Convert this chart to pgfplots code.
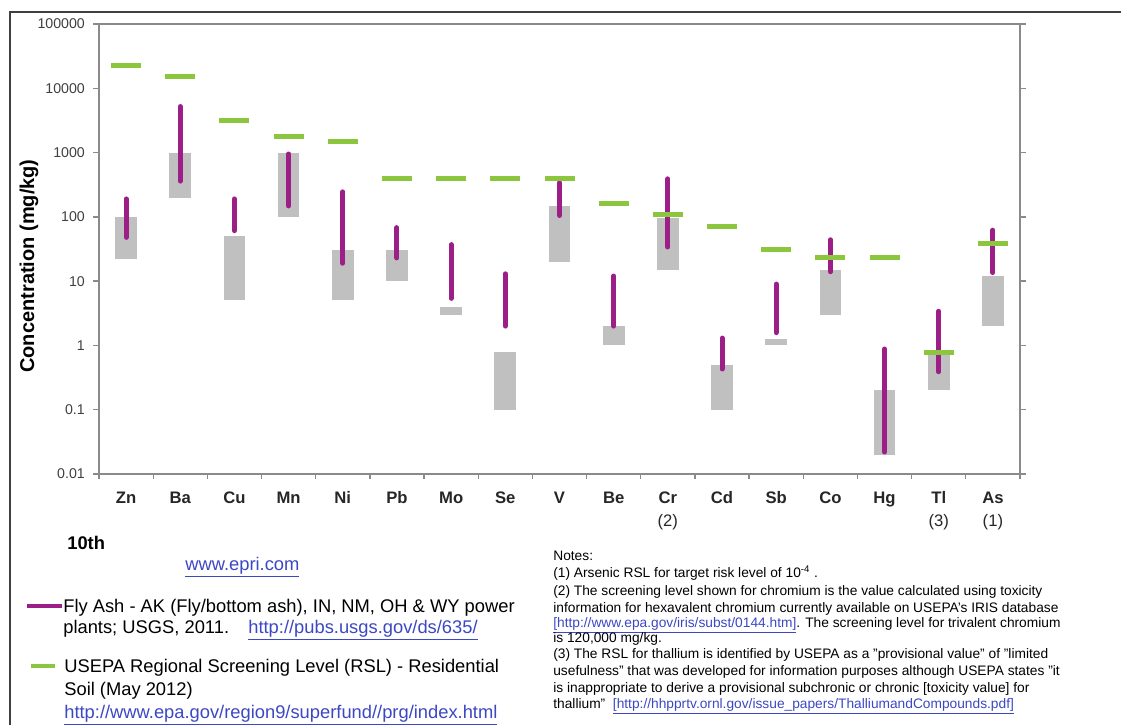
\documentclass[border=0pt]{standalone}
\usepackage{fontspec}
\setmainfont{Liberation Sans}
\usepackage{pgfplots}
\pgfplotsset{compat=1.18}

\definecolor{ashpurple}{HTML}{9C1F87}
\definecolor{rslgreen}{HTML}{8CC63E}
\definecolor{soilgray}{HTML}{C0C0C0}
\definecolor{axisgray}{HTML}{8A8A8A}
\definecolor{linkblue}{HTML}{3B47C4}
\newcommand\link[1]{\textcolor{linkblue}{\underline{#1}}}

\begin{document}
\begin{tikzpicture}[px/.style={x=0.6pt,y=-0.6pt,shift={(-59.4pt,284.4pt)}}]
% page size in reference pixels (1px = 0.6pt), origin at the axis corner
\path[px,use as bounding box] (0,0) rectangle (1121,725);

\begin{axis}[
    at={(0,0)}, anchor=south west,
    scale only axis, width=552.6pt, height=270pt,
    ymode=log, ymin=0.01, ymax=100000,
    xmin=-0.5, xmax=16.5,
    unbounded coords=jump,
    axis line style={axisgray, line width=1pt},
    tick align=outside,
    major tick length=3.5pt, minor tick length=3pt,
    xtick={0,...,16},
    xticklabels={Zn,Ba,Cu,Mn,Ni,Pb,Mo,Se,V,Be,{Cr\\\mdseries(2)},Cd,Sb,Co,Hg,{Tl\\\mdseries(3)},{As\\\mdseries(1)}},
    xticklabel style={font=\bfseries\fontsize{10}{14}\selectfont, align=center, text=black!85, yshift=-3.5pt},
    minor xtick={-0.5,0.5,...,16.5},
    major x tick style={draw=none},
    minor x tick style={draw=axisgray, line width=0.8pt},
    xtick pos=left,
    ytick={0.01,0.1,1,10,100,1000,10000,100000},
    yticklabels={0.01,0.1,1,10,100,1000,10000,100000},
    yminorticks=false,
    ytick pos=both,
    y tick style={draw=axisgray, line width=0.8pt},
    yticklabel style={font=\fontsize{8.5}{10}\selectfont, text=black!75, xshift=-1.5pt},
]
% soil background range (grey boxes)
\addplot[soilgray, line width=13pt, mark=none] coordinates {
    (0,22) (0,100) (0,nan)
    (1,200) (1,1000) (1,nan)
    (2,5) (2,50) (2,nan)
    (3,100) (3,1000) (3,nan)
    (4,5) (4,30) (4,nan)
    (5,10) (5,30) (5,nan)
    (6,3) (6,4) (6,nan)
    (7,0.1) (7,0.8) (7,nan)
    (8,20) (8,150) (8,nan)
    (9,1) (9,2) (9,nan)
    (10,15) (10,95) (10,nan)
    (11,0.1) (11,0.5) (11,nan)
    (12,1) (12,1.25) (12,nan)
    (13,3) (13,15) (13,nan)
    (14,0.02) (14,0.2) (14,nan)
    (15,0.2) (15,0.7) (15,nan)
    (16,2) (16,12)
};
% fly ash range (purple)
\addplot[ashpurple, line width=3pt, line cap=round, mark=none] coordinates {
    (0,48) (0,190) (0,nan)
    (1,360) (1,5200) (1,nan)
    (2,61) (2,190) (2,nan)
    (3,148) (3,950) (3,nan)
    (4,19) (4,245) (4,nan)
    (5,23) (5,68) (5,nan)
    (6,5.4) (6,37) (6,nan)
    (7,2) (7,13) (7,nan)
    (8,105) (8,340) (8,nan)
    (9,2) (9,12) (9,nan)
    (10,34) (10,390) (10,nan)
    (11,0.43) (11,1.3) (11,nan)
    (12,1.58) (12,9) (12,nan)
    (13,14) (13,44) (13,nan)
    (14,0.022) (14,0.88) (14,nan)
    (15,0.39) (15,3.4) (15,nan)
    (16,13.6) (16,62)
};
% USEPA RSL (green dashes)
\addplot[only marks, mark=-, mark size=9pt, mark options={rslgreen, line width=3pt}] coordinates {
    (0,23000) (1,15000) (2,3100) (3,1800) (4,1500) (5,400) (6,390) (7,390)
    (8,390) (9,160) (10,110) (11,70) (12,31) (13,23) (14,23) (15,0.78) (16,39)
};
\end{axis}

\begin{scope}[px]
\draw[black!75, line width=0.7pt] (10,725) -- (10,12) -- (1121,12);
\node[rotate=90, font=\bfseries\fontsize{12}{14}\selectfont] at (29,266) {Concentration (mg/kg)};

% legend
\begin{scope}[every node/.style={anchor=base west, inner sep=0pt, font=\fontsize{11}{13}\selectfont}]
\node[font=\bfseries\fontsize{11}{13}\selectfont] at (67,549.5) {10th};
\node at (185,570.5) {\link{www.epri.com}};
\draw[ashpurple, line width=2.5pt] (27,606) -- (62,606);
\node at (63,612.5) {Fly Ash - AK (Fly/bottom ash), IN, NM, OH \& WY power};
\node at (63,633.5) {plants; USGS, 2011.};
\node at (248,633.5) {\link{http://pubs.usgs.gov/ds/635/}};
\draw[rslgreen, line width=2.5pt] (31,666) -- (55,666);
\node at (64,672.5) {USEPA Regional Screening Level (RSL) - Residential};
\node at (64,695.5) {Soil (May 2012)};
\node at (64,718) {\link{http://www.epa.gov/region9/superfund//prg/index.html}};
\end{scope}

% notes
\begin{scope}[every node/.style={anchor=base west, inner sep=0pt, font=\fontsize{8.25}{10}\selectfont}]
\node at (553,560) {Notes:};
\node at (553,577) {(1) Arsenic RSL for target risk level of 10\textsuperscript{-4} .};
\node at (553,595) {(2) The screening level shown for chromium is the value calculated using toxicity};
\node at (553,612) {information for hexavalent chromium currently available on USEPA's IRIS database};
\node at (553,627) {\link{[http://www.epa.gov/iris/subst/0144.htm]}. The screening level for trivalent chromium};
\node at (553,642) {is 120,000 mg/kg.};
\node at (553,658) {(3) The RSL for thallium is identified by USEPA as a "provisional value" of "limited};
\node at (553,675) {usefulness" that was developed for information purposes although USEPA states "it};
\node at (553,692) {is inappropriate to derive a provisional subchronic or chronic [toxicity value] for};
\node at (553,708) {thallium"\ \ \link{[http://hhpprtv.ornl.gov/issue\_papers/ThalliumandCompounds.pdf]}};
\end{scope}
\end{scope}
\end{tikzpicture}
\end{document}
